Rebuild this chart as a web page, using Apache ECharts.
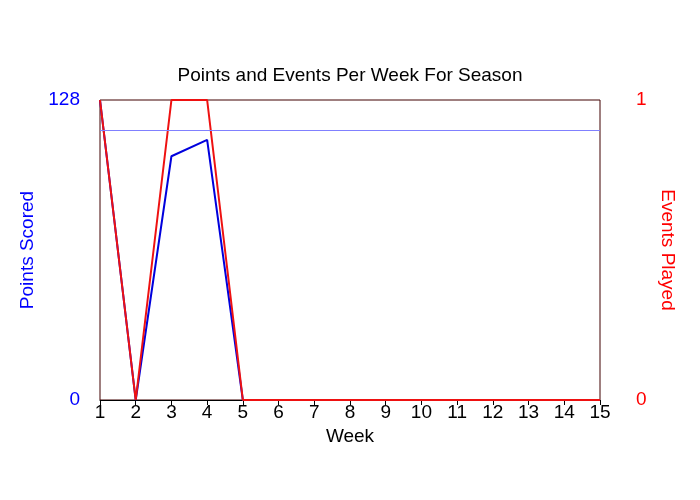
<!DOCTYPE html>
<html><head><meta charset="utf-8">
<script src="https://cdn.jsdelivr.net/npm/echarts@6/dist/echarts.min.js"></script>
</head><body style="margin:0;background:#fff">
<div id="c" style="width:700px;height:500px"></div>
<script>
const weeks = ['1','2','3','4','5','6','7','8','9','10','11','12','13','14','15'];
const points = [128,0,104,111,0,0,0,0,0,0,0,0,0,0,0];
const events = [1,0,1,1,0,0,0,0,0,0,0,0,0,0,0];
const refLine = 115;
const F = 'Liberation Sans';
const ch = echarts.init(document.getElementById('c'));
ch.setOption({
  animation:false,
  title:{text:'Points and Events Per Week For Season',left:'center',top:61,textStyle:{fontFamily:F,fontSize:19,fontWeight:'normal',color:'#000'}},
  grid:{left:100,right:100,top:100,bottom:100,show:true,borderColor:'#400000',borderWidth:1},
  xAxis:{type:'category',data:weeks,boundaryGap:false,name:'Week',nameLocation:'middle',nameGap:23,
    nameTextStyle:{fontFamily:F,fontSize:19,color:'#000'},
    axisLine:{lineStyle:{color:'#000'}},axisTick:{show:true,inside:false,length:5,lineStyle:{color:'#000'}},
    axisLabel:{fontFamily:F,fontSize:19,color:'#000',margin:3},splitLine:{show:false}},
  yAxis:[
    {type:'value',min:0,max:128,interval:128,name:'Points Scored',nameLocation:'middle',nameGap:3,
     nameTextStyle:{fontFamily:F,fontSize:19,color:'#0000ff'},
     axisLine:{show:false},axisTick:{show:false},splitLine:{show:false},
     axisLabel:{fontFamily:F,fontSize:19,color:'#0000ff',margin:20}},
    {type:'value',min:0,max:1,interval:1,name:'Events Played',nameLocation:'middle',nameGap:14,nameRotate:-90,
     nameTextStyle:{fontFamily:F,fontSize:19,color:'#ff0000'},
     axisLine:{show:false},axisTick:{show:false},splitLine:{show:false},
     axisLabel:{fontFamily:F,fontSize:19,color:'#ff0000',margin:36}}
  ],
  series:[
    {type:'line',data:points,yAxisIndex:0,symbol:'none',lineStyle:{color:'#0000dd',width:2},
     markLine:{silent:true,symbol:'none',label:{show:false},lineStyle:{color:'#8080ff',width:1,type:'solid'},data:[{yAxis:refLine}]}},
    {type:'line',data:events,yAxisIndex:1,symbol:'none',lineStyle:{color:'#ee1111',width:2}}
  ]
});
</script></body></html>
